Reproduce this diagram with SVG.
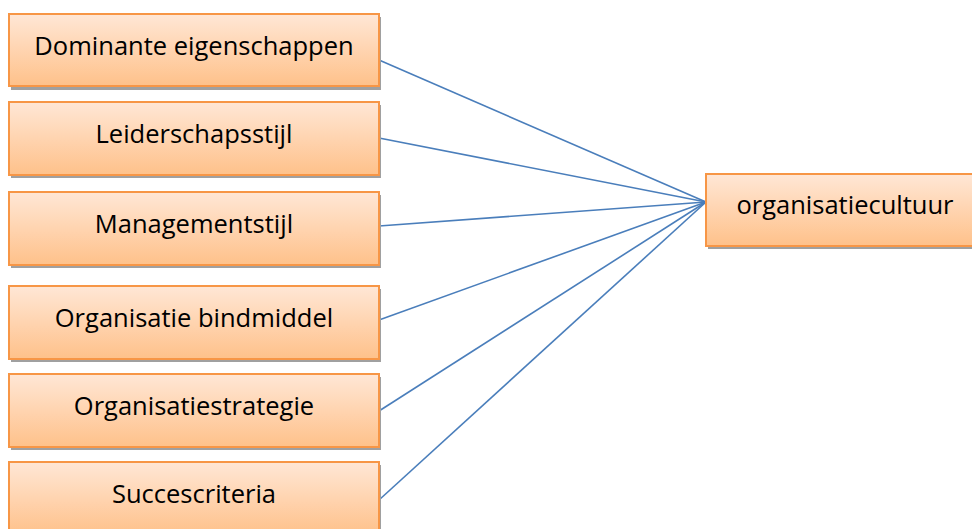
<svg xmlns="http://www.w3.org/2000/svg" width="972" height="529" viewBox="0 0 972 529">
  <defs>
    <linearGradient id="boxFill" x1="0" y1="0" x2="0" y2="1">
      <stop offset="0" stop-color="#FFE7D6"/>
      <stop offset="0.5" stop-color="#FFD4B0"/>
      <stop offset="1" stop-color="#FEC18A"/>
    </linearGradient>
  </defs>
  <style>
    .shadow { fill: #A0A0A0; }
    .box { fill: url(#boxFill); stroke: #F79646; stroke-width: 2; }
    .label { font-family: "Open Sans", "Noto Sans", sans-serif; font-size: 25.5px; fill: #000; text-anchor: middle; }
    .link { stroke: #4A7EBB; stroke-width: 1.6; fill: none; }
  </style>

  <rect width="972" height="529" fill="#FFFFFF"/>

  <g id="connectors">
    <line class="link" x1="379" y1="60" x2="706" y2="202"/>
    <line class="link" x1="379" y1="138" x2="706" y2="202"/>
    <line class="link" x1="379" y1="226" x2="706" y2="202"/>
    <line class="link" x1="379" y1="320" x2="706" y2="202"/>
    <line class="link" x1="379" y1="411" x2="706" y2="202"/>
    <line class="link" x1="379" y1="500" x2="706" y2="202"/>
  </g>

  <g id="dominante-eigenschappen">
    <rect class="shadow" x="11" y="17" width="370" height="73"/>
    <rect class="box" x="9" y="14" width="370" height="72"/>
    <text class="label" x="194" y="55">Dominante eigenschappen</text>
  </g>

  <g id="leiderschapsstijl">
    <rect class="shadow" x="11" y="105" width="370" height="73"/>
    <rect class="box" x="9" y="102" width="370" height="73"/>
    <text class="label" x="194" y="143">Leiderschapsstijl</text>
  </g>

  <g id="managementstijl">
    <rect class="shadow" x="11" y="195" width="370" height="73"/>
    <rect class="box" x="9" y="192" width="370" height="73"/>
    <text class="label" x="194" y="233">Managementstijl</text>
  </g>

  <g id="organisatie-bindmiddel">
    <rect class="shadow" x="11" y="289" width="370" height="73"/>
    <rect class="box" x="9" y="286" width="370" height="73"/>
    <text class="label" x="194" y="327">Organisatie bindmiddel</text>
  </g>

  <g id="organisatiestrategie">
    <rect class="shadow" x="11" y="377" width="370" height="73"/>
    <rect class="box" x="9" y="374" width="370" height="73"/>
    <text class="label" x="194" y="415">Organisatiestrategie</text>
  </g>

  <g id="succescriteria">
    <rect class="shadow" x="11" y="465" width="370" height="73"/>
    <rect class="box" x="9" y="462" width="370" height="73"/>
    <text class="label" x="194" y="503">Succescriteria</text>
  </g>

  <g id="organisatiecultuur">
    <rect class="shadow" x="708" y="177" width="277" height="72"/>
    <rect class="box" x="706" y="174" width="277" height="72"/>
    <text class="label" x="845" y="214">organisatiecultuur</text>
  </g>
</svg>
